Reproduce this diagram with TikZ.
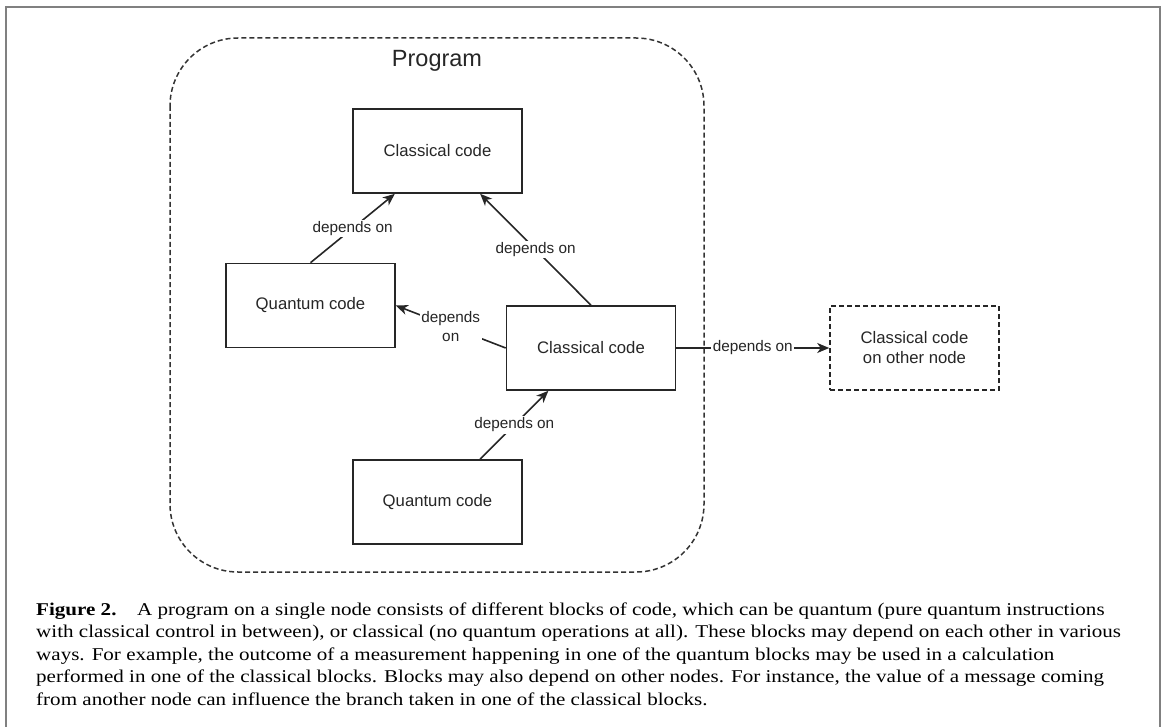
\documentclass[tikz,border=0pt]{standalone}
\usepackage{fontspec}
\setsansfont{Liberation Sans}
\newfontfamily\capfont[FakeStretch=1.17]{Liberation Serif}
\usetikzlibrary{arrows.meta,calc}

\begin{document}
\begin{tikzpicture}[x=1pt,y=-1pt,
  block/.style={draw=black!85, line width=1.6pt, minimum width=169pt, minimum height=84pt,
    inner sep=0pt, font=\sffamily\fontsize{16.7}{20}\selectfont, text=black!85},
  remote/.style={block, dash pattern=on 5pt off 3pt, align=center},
  dep/.style={draw=black!85, line width=1.6pt, -{Stealth[length=12pt,width=10pt,inset=3.5pt]}},
  deplabel/.style={fill=white, inner sep=1.5pt, font=\sffamily\fontsize{15.3}{19}\selectfont,
    text=black!85, align=center},
  capline/.style={anchor=base west, inner sep=0pt, font=\capfont\fontsize{18}{22.5}\selectfont}]

\useasboundingbox (0,0) rectangle (1166,727);

% Frame
\draw[black!50, line width=2pt] (6,727) -- (6,7) -- (1160,7) -- (1160,727);

% Program region
\draw[black!80, line width=1.5pt, dash pattern=on 5pt off 3pt, rounded corners=68pt]
  (170,38) rectangle (704,572);
\node[font=\sffamily\fontsize{23.5}{28}\selectfont, text=black!85] (prog) at (437,61) {Program};

% Code blocks
\node[block] (cc1) at (437.5,151) {Classical code};
\node[block] (qc1) at (310.5,305.5) {Quantum code};
\node[block] (cc2) at (591,348) {Classical code};
\node[block] (qc2) at (437.5,502) {Quantum code};
\node[remote] (cco) at (914.5,348) {Classical code\\on other node};

% Dependencies
\draw[dep] (qc1.north) -- node[deplabel] {depends on} ($(cc1.south west)!0.25!(cc1.south east)$);
\draw[dep] (cc2.north) -- node[deplabel] {depends on} ($(cc1.south west)!0.75!(cc1.south east)$);
\draw[dep] (cc2.west) -- node[deplabel] {depends\\on} (qc1.east);
\draw[dep] ($(qc2.north west)!0.75!(qc2.north east)$) -- node[deplabel] {depends on} ($(cc2.south west)!0.25!(cc2.south east)$);
\draw[dep] (cc2.east) -- node[deplabel] {depends on} (cco.west);

% Caption
\foreach \i/\txt in {
  1/{\textbf{Figure 2.}\hspace{0.75em} A program on a single node consists of different blocks of code, which can be quantum (pure quantum instructions},
  2/{with classical control in between), or classical (no quantum operations at all). These blocks may depend on each other in various},
  3/{ways. For example, the outcome of a measurement happening in one of the quantum blocks may be used in a calculation},
  4/{performed in one of the classical blocks. Blocks may also depend on other nodes. For instance, the value of a message coming},
  5/{from another node can influence the branch taken in one of the classical blocks.}} {
    \node[capline] (cap\i) at (36,{615+22.5*(\i-1)}) {\txt};
}
\end{tikzpicture}
\end{document}
